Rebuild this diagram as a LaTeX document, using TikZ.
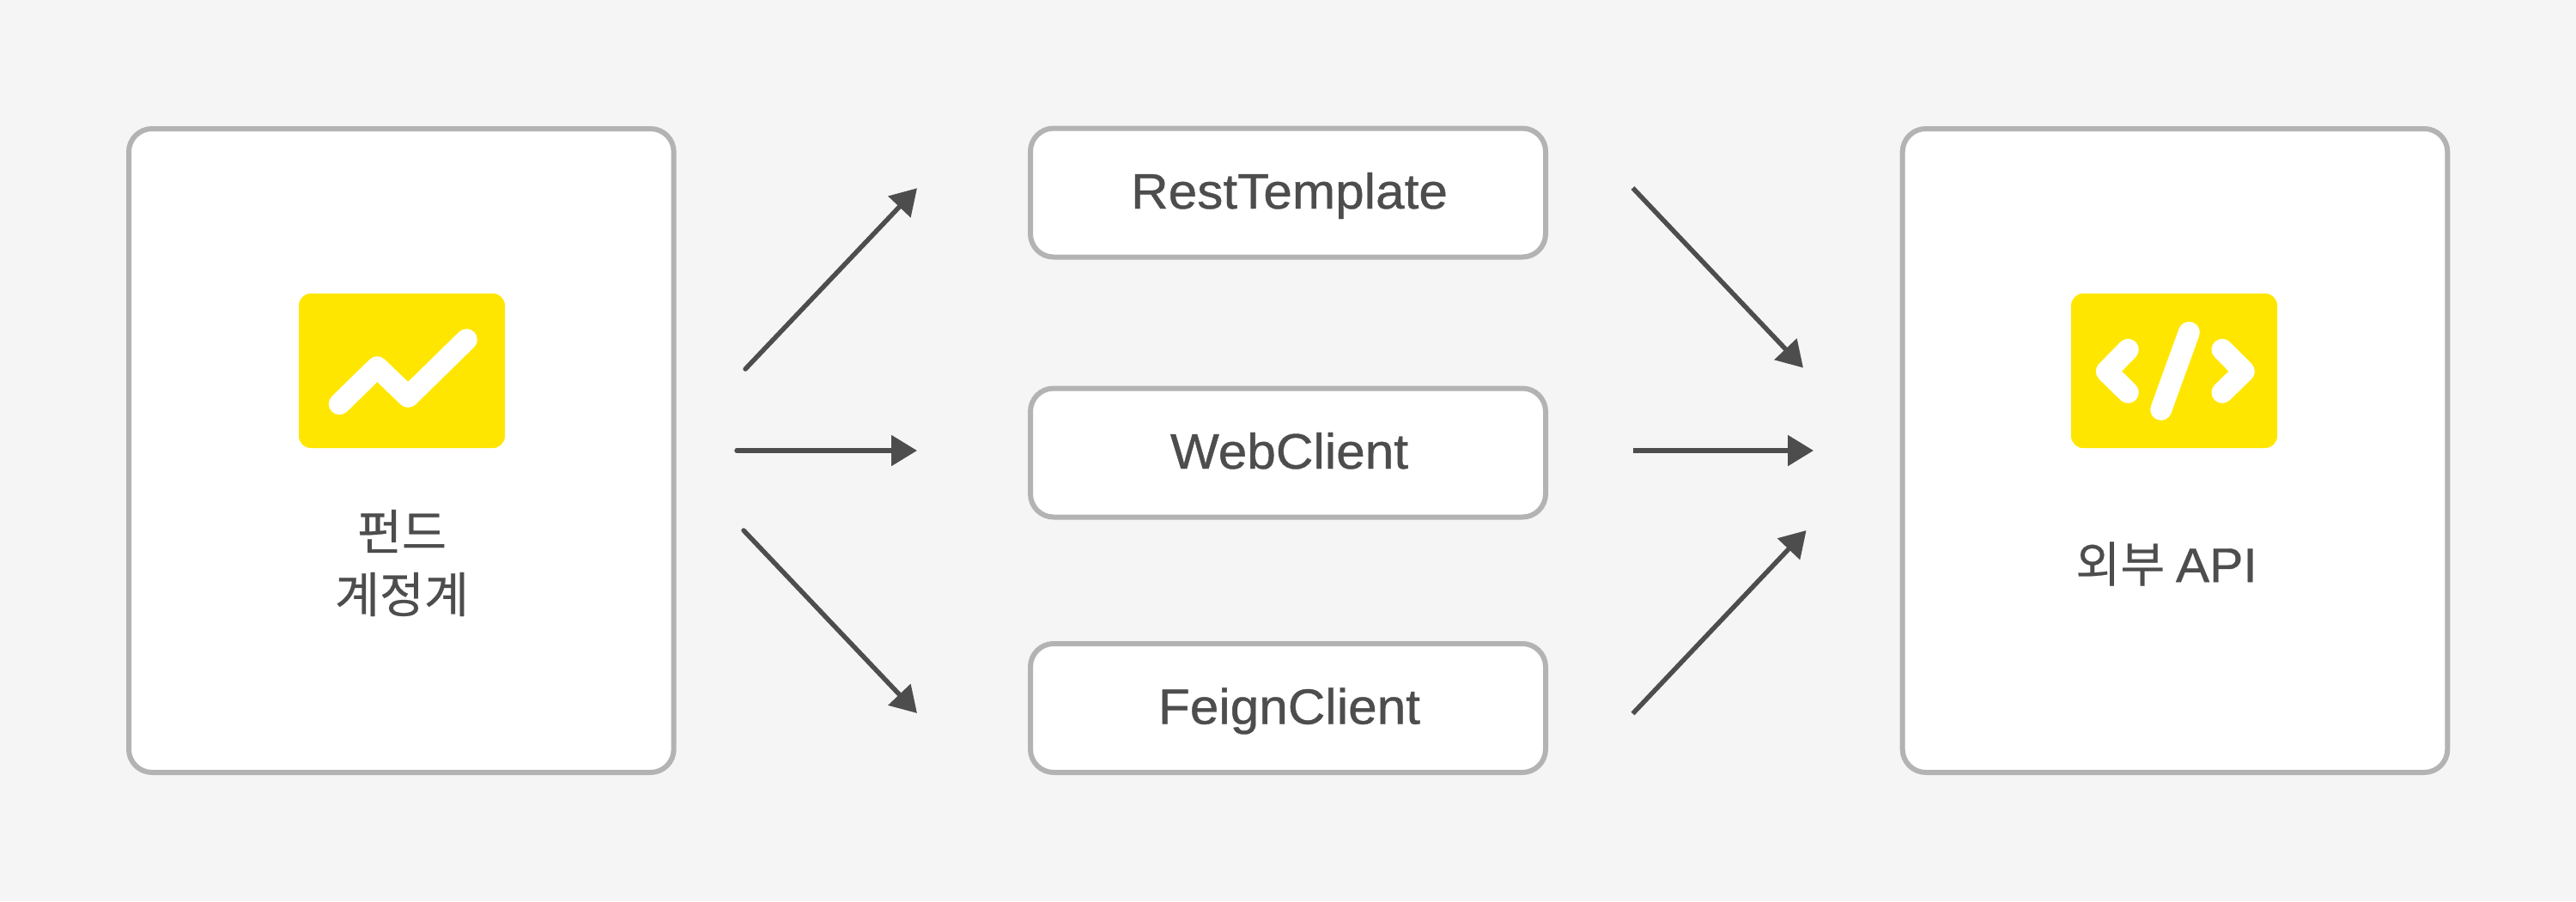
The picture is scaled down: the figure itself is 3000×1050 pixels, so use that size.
\documentclass[tikz,border=0pt]{standalone}
\usepackage{fontspec}
\setmainfont{Liberation Sans}[FakeStretch=1.04,FakeBold=0.7]
\newfontfamily\krfont{Noto Sans CJK KR}[FakeBold=0.4]
\usetikzlibrary{arrows.meta}
\definecolor{pagebg}{HTML}{F5F5F5}
\definecolor{frame}{HTML}{B3B3B3}
\definecolor{ink}{HTML}{4D4D4D}
\definecolor{iconyellow}{HTML}{FFE600}
\tikzset{
  x=1pt,y=-1pt,
  bigbox/.style={draw=frame,fill=white,line width=6pt,rounded corners=27pt,minimum width=634.7pt,minimum height=750pt,inner sep=0pt,outer sep=0pt},
  midbox/.style={draw=frame,fill=white,line width=6pt,rounded corners=27pt,minimum width=600pt,minimum height=150pt,inner sep=0pt,outer sep=0pt,text=ink,
    font=\fontsize{58}{70}\selectfont,text height=42pt,text depth=5pt},
  iconbox/.style={fill=iconyellow,rounded corners=14pt,minimum width=240pt,minimum height=180pt,inner sep=0pt,outer sep=0pt},
  iconline/.style={draw=white,line width=25pt,line cap=round,line join=round},
  krlabel/.style={text=ink,font=\fontsize{56.5}{73}\selectfont\krfont,align=center,inner sep=0pt},
  link/.style={draw=ink,line width=5.5pt,-{Triangle[length=30pt,width=35pt]}},
  linkround/.style={link,line cap=round},
}
\begin{document}
\begin{tikzpicture}
\useasboundingbox (0,0) rectangle (3000,1050);
\fill[pagebg] (0,0) rectangle (3000,1050);
% main boxes
\node[bigbox] (fund) at (467.35,525) {};
\node[bigbox] (ext) at (2533,525) {};
\node[midbox] (rest) at (1500,224.5) {\hspace{3pt}RestTemplate};
\node[midbox] (web) at (1500,527.5) {\hspace{3pt}WebClient};
\node[midbox] (feign) at (1500,825) {\hspace{3pt}FeignClient};
% icons
\node[iconbox] (iconl) at (468,432) {};
\node[iconbox] (iconr) at (2532,432) {};
\draw[iconline] (395.3,470.7) -- (439.3,427.7) -- (475.3,462.3) -- (543.3,395.7);
\draw[iconline] (2478.3,407.3) -- (2453.3,432.7) -- (2478.3,457.3);
\draw[iconline] (2588,407.3) -- (2613.3,432.7) -- (2588,457.3);
\draw[iconline] (2549.3,387.3) -- (2516.7,477.3);
% labels
\node[krlabel] (fundlabel) at (468,656) {펀드\\계정계};
\node[krlabel] (extlabel) at (2523,657) {외부 {\rmfamily API}};
% connector ends
\coordinate (a1s) at (868,430); \coordinate (a1e) at (1068,219.3);
\coordinate (a2s) at (858,525); \coordinate (a2e) at (1068,525);
\coordinate (a3s) at (866,618); \coordinate (a3e) at (1068,831);
\coordinate (b1s) at (1901.5,219); \coordinate (b1e) at (2100,428.5);
\coordinate (b2s) at (1901.5,525); \coordinate (b2e) at (2112,525);
\coordinate (b3s) at (1901.5,831.5); \coordinate (b3e) at (2103.6,618);
\draw[linkround] (a1s) -- (a1e);
\draw[linkround] (a2s) -- (a2e);
\draw[linkround] (a3s) -- (a3e);
\draw[link] (b1s) -- (b1e);
\draw[link] (b2s) -- (b2e);
\draw[link] (b3s) -- (b3e);
\end{tikzpicture}
\end{document}
